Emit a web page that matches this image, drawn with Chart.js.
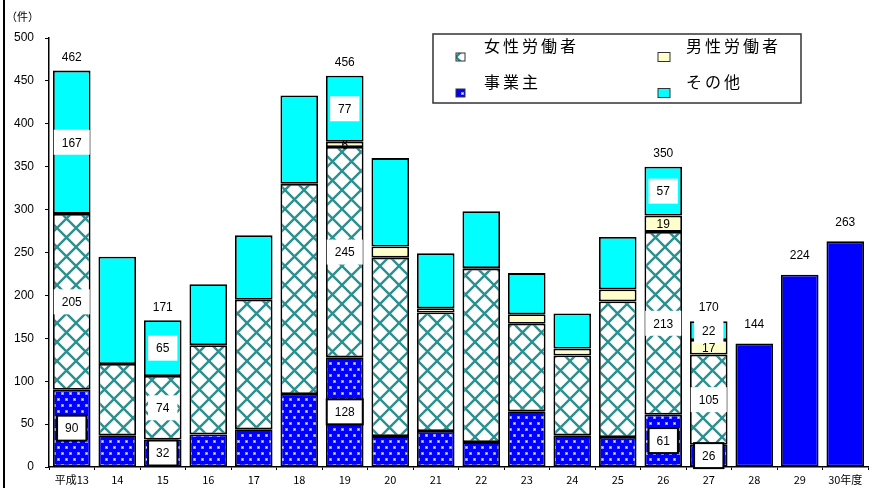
<!DOCTYPE html>
<html>
<head>
<meta charset="utf-8">
<script src="https://cdn.jsdelivr.net/npm/chart.js@4"></script>
<style>
  html, body { margin: 0; padding: 0; background: #fff; }
  #wrap { width: 877px; height: 488px; }
</style>
</head>
<body>
<div id="wrap"><canvas id="chart" width="877" height="488"></canvas></div>
<script>
// 年度
const categories = ['平成13','14','15','16','17','18','19','20','21','22','23','24','25','26','27','28','29','30年度'];
// 内訳（平成27年度まで）
const jigyonushi = [90, 37, 32, 38, 44, 85, 128, 36, 42, 29, 65, 37, 35, 61, 26, null, null, null];
const josei      = [205, 83, 74, 104, 151, 245, 245, 208, 138, 202, 102, 93, 158, 213, 105, null, null, null];
const dansei     = [null, null, null, null, null, null, 6, 13, 5, 1, 11, 8, 14, 19, 17, null, null, null];
const sonota     = [167, 125, 65, 71, 75, 103, 77, 103, 64, 66, 48, 41, 61, 57, 22, null, null, null];
// 28年度以降は合計のみ
const goukei     = [null, null, null, null, null, null, null, null, null, null, null, null, null, null, null, 144, 224, 263];
// 数値を表示する年度（インデックス）
const labeledBars = [0, 2, 6, 13, 14];
const totalLabelBars = [0, 2, 6, 13, 14, 15, 16, 17];
const yTicks = [0, 50, 100, 150, 200, 250, 300, 350, 400, 450, 500];

const NUM_FONT = '12px "Liberation Sans", Arial, sans-serif';
const JP_FONT = '"Noto Sans CJK JP", sans-serif';

// 女性労働者：格子模様
function crossPattern() {
  const c = document.createElement('canvas');
  c.width = 19; c.height = 19;
  const g = c.getContext('2d');
  g.fillStyle = '#fff';
  g.fillRect(0, 0, 19, 19);
  g.strokeStyle = '#2a9090';
  g.lineWidth = 2.4;
  g.beginPath();
  g.moveTo(-1, -1); g.lineTo(20, 20);
  g.moveTo(20, -1); g.lineTo(-1, 20);
  g.stroke();
  return g.createPattern(c, 'repeat');
}

// 事業主：青地に白い点
function dotPattern() {
  const c = document.createElement('canvas');
  c.width = 8; c.height = 12;
  const g = c.getContext('2d');
  g.fillStyle = '#0000ff';
  g.fillRect(0, 0, 8, 12);
  [[2, 3], [6, 9]].forEach(([x, y]) => {
    g.fillStyle = '#8c8cff';
    g.fillRect(x - 1, y - 1, 3, 3);
    g.fillStyle = '#ffffff';
    g.fillRect(x, y, 1, 1);
  });
  return g.createPattern(c, 'repeat');
}

const patCross = crossPattern();
const patDot = dotPattern();

const legendItems = [
  { text: '女性労働者', fill: patCross, x: 456, y: 46, w: 9, h: 8 },
  { text: '男性労働者', fill: '#ffffcc', x: 658, y: 46, w: 12, h: 9 },
  { text: '事業主', fill: patDot, x: 456, y: 82, w: 9, h: 8 },
  { text: 'その他', fill: '#00ffff', x: 658, y: 82, w: 12, h: 9 }
];

const decorPlugin = {
  id: 'decor',
  beforeDraw(chart) {
    const ctx = chart.ctx;
    ctx.save();
    ctx.fillStyle = '#fff';
    ctx.fillRect(0, 0, chart.width, chart.height);
    // 左の枠線
    ctx.strokeStyle = '#000';
    ctx.lineWidth = 2;
    ctx.beginPath();
    ctx.moveTo(4, 0); ctx.lineTo(4, chart.height);
    ctx.stroke();
    // 単位
    ctx.fillStyle = '#000';
    ctx.font = '11px ' + JP_FONT;
    ctx.textBaseline = 'middle';
    ctx.fillText('（件）', 6, 17);
    ctx.restore();
  },
  afterDatasetsDraw(chart) {
    const ctx = chart.ctx;
    const y = chart.scales.y;
    ctx.save();
    ctx.font = NUM_FONT;
    ctx.textAlign = 'center';
    ctx.textBaseline = 'middle';

    const box = (cx, cy, txt, border) => {
      const w = Math.min(ctx.measureText(txt).width + 16, 37);
      const h = 25;
      ctx.fillStyle = '#fff';
      ctx.fillRect(cx - w / 2, cy - h / 2, w, h);
      if (border) {
        ctx.strokeStyle = '#000';
        ctx.lineWidth = 2;
        ctx.strokeRect(cx - w / 2, cy - h / 2, w, h);
      }
      ctx.fillStyle = '#000';
      ctx.fillText(txt, cx, cy + 1);
    };

    labeledBars.forEach(i => {
      chart.data.datasets.forEach((ds, di) => {
        const v = ds.data[i];
        if (v == null || di > 3) return;
        const el = chart.getDatasetMeta(di).data[i];
        const cy = (el.y + el.base) / 2;
        if (ds.label === '男性労働者') {
          ctx.fillStyle = '#000';
          ctx.fillText(String(v), el.x, cy + 1);
        } else {
          box(el.x, cy, String(v), ds.label === '事業主');
        }
      });
    });

    // 合計
    totalLabelBars.forEach(i => {
      let sum = 0;
      chart.data.datasets.forEach(ds => { sum += ds.data[i] || 0; });
      const el = chart.getDatasetMeta(0).data[i];
      const solid = goukei[i] != null;
      const top = y.getPixelForValue(sum);
      ctx.fillStyle = '#000';
      ctx.fillText(String(sum), el.x, top - (solid ? 19 : 13));
    });

    // 凡例
    ctx.strokeStyle = '#333';
    ctx.lineWidth = 1.5;
    ctx.strokeRect(433, 34, 368, 69);
    ctx.font = '16px ' + JP_FONT;
    ctx.textAlign = 'left';
    ctx.letterSpacing = '3px';
    legendItems.forEach(it => {
      const sy = it.y + 10 - it.h / 2 + 1;
      ctx.fillStyle = it.fill;
      ctx.fillRect(it.x, sy, it.w, it.h);
      ctx.strokeStyle = '#333';
      ctx.lineWidth = 1;
      ctx.strokeRect(it.x, sy, it.w, it.h);
      ctx.fillStyle = '#000';
      ctx.fillText(it.text, it.x + 28, it.y);
    });
    ctx.restore();
  }
};

const common = { borderColor: '#000', borderWidth: 1.8, borderSkipped: false, stack: 's' };

new Chart(document.getElementById('chart'), {
  type: 'bar',
  data: {
    labels: categories,
    datasets: [
      { label: '事業主', data: jigyonushi, backgroundColor: patDot, ...common },
      { label: '女性労働者', data: josei, backgroundColor: patCross, ...common },
      { label: '男性労働者', data: dansei, backgroundColor: '#ffffcc', ...common },
      { label: 'その他', data: sonota, backgroundColor: '#00ffff', ...common },
      { label: '合計', data: goukei, backgroundColor: '#0000ff', ...common }
    ]
  },
  options: {
    responsive: false,
    animation: false,
    layout: { padding: { left: 0, right: 9, top: 38, bottom: 0 } },
    datasets: { bar: { categoryPercentage: 1, barPercentage: 0.826 } },
    plugins: { legend: { display: false }, tooltip: { enabled: false } },
    scales: {
      x: {
        stacked: true,
        afterFit(s) { s.height = 21; },
        border: { color: '#000', width: 1.5 },
        grid: { drawOnChartArea: false, color: '#000', tickLength: 3, offset: true },
        ticks: { color: '#000', padding: 3, font: { family: JP_FONT, size: 11 }, maxRotation: 0, autoSkip: false }
      },
      y: {
        stacked: true,
        min: 0,
        max: 500,
        afterFit(s) { s.width = 49; },
        afterBuildTicks(s) { s.ticks = yTicks.map(v => ({ value: v })); },
        border: { color: '#000', width: 1.5 },
        grid: { drawOnChartArea: false, color: '#000', tickLength: 4 },
        ticks: { color: '#000', padding: 11, font: { family: '"Liberation Sans", Arial, sans-serif', size: 12 } }
      }
    }
  },
  plugins: [decorPlugin]
});
</script>
</body>
</html>
